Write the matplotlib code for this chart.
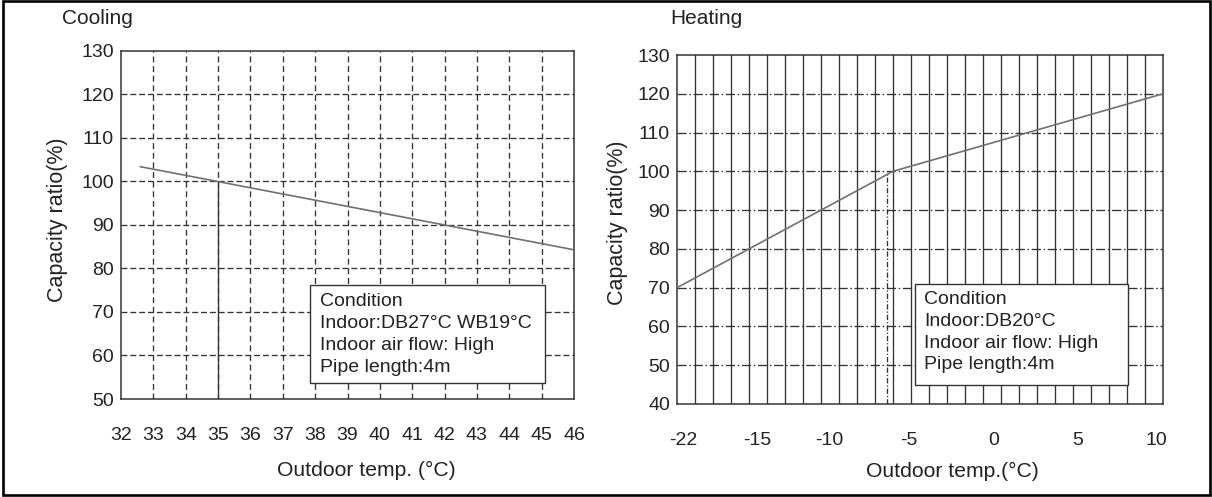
import matplotlib
matplotlib.use('Agg')
import matplotlib.pyplot as plt
import numpy as np
from matplotlib.patches import Rectangle

plt.rcParams['font.family'] = ['Liberation Sans', 'DejaVu Sans']

# ---------------- data ----------------
cool_x = [32.6, 46.0]
cool_y = [103.4, 84.3]
cool_ref_x = 35.0          # marked point (rated condition)
cool_ref_y = 100.0
cool_xticks = list(range(32, 47))
cool_yticks = list(range(50, 131, 10))

heat_x = [-22.0, -7.78, 10.0]
heat_y = [70.0, 100.0, 120.0]
heat_ref_x = -8.15         # dash-dot marker line below the knee
heat_ref_y = 100.0
heat_tick_labels = ['-22', '-15', '-10', '-5', '0', '5', '10']
heat_tick_pos = [-21.62, -16.71, -11.99, -6.74, -1.16, 4.38, 9.57]
heat_yticks = list(range(40, 131, 10))

cool_cond = ["Condition", "Indoor:DB27°C WB19°C", "Indoor air flow: High", "Pipe length:4m"]
heat_cond = ["Condition", "Indoor:DB20°C", "Indoor air flow: High", "Pipe length:4m"]

# ---------------- figure ----------------
W, H = 1212, 497
fig = plt.figure(figsize=(W / 100, H / 100), dpi=100)
TXT = '#222222'
GRID = '#333333'
LINE = '#707070'
FS = 14


def add_ax(l, r, t, b):
    return fig.add_axes([l / W, 1 - b / H, (r - l) / W, (b - t) / H])


def box(ax, frame, l, r, t, b, lines, tx, ty0, dy):
    fl, fr, ft, fb = frame
    ax.add_patch(Rectangle(((l - fl) / (fr - fl), (fb - b) / (fb - ft)),
                           (r - l) / (fr - fl), (b - t) / (fb - ft),
                           transform=ax.transAxes, facecolor='white',
                           edgecolor='#333333', lw=1.0, zorder=6, clip_on=False))
    for i, s in enumerate(lines):
        y = ty0 + i * dy
        ax.text((tx - fl) / (fr - fl), (fb - y) / (fb - ft), s, transform=ax.transAxes,
                ha='left', va='center', fontsize=FS, color=TXT, zorder=7)


def style(ax):
    for sp in ax.spines.values():
        sp.set_color('#333333')
        sp.set_linewidth(1.1)
    ax.tick_params(axis='both', length=0, labelsize=FS, colors=TXT)
    ax.tick_params(axis='x', pad=20)
    ax.tick_params(axis='y', pad=5)


# ---- Cooling ----
cframe = (121, 574, 51, 399)
ax1 = add_ax(*cframe)
ax1.set_xlim(32, 46)
ax1.set_ylim(50, 130)
ax1.set_xticks(cool_xticks)
ax1.set_yticks(cool_yticks)
for xv in cool_xticks[1:-1]:
    ax1.axvline(xv, color=GRID, lw=0.95, dashes=(4.5, 2.8), zorder=1)
for yv in cool_yticks[1:-1]:
    ax1.axhline(yv, color=GRID, lw=0.95, dashes=(4.5, 2.2), zorder=1)
ax1.plot([cool_ref_x, cool_ref_x], [50, cool_ref_y], color=GRID, lw=0.95, zorder=2)
ax1.plot(cool_x, cool_y, color=LINE, lw=1.2, zorder=3)
style(ax1)
box(ax1, cframe, 310, 545, 285, 383, cool_cond, 320, 302, 22)

# ---- Heating ----
hframe = (677, 1163, 55, 404)
ax2 = add_ax(*hframe)
ax2.set_xlim(-22, 10)
ax2.set_ylim(40, 130)
ax2.set_xticks(heat_tick_pos, heat_tick_labels)
ax2.set_yticks(heat_yticks)
for xv in np.linspace(-22, 10, 28)[1:-1]:
    ax2.axvline(xv, color=GRID, lw=0.95, zorder=1)
for yv in heat_yticks[1:-1]:
    ax2.axhline(yv, color=GRID, lw=0.95, dashes=(7, 2, 1.2, 2), zorder=1)
ax2.plot([heat_ref_x, heat_ref_x], [40, heat_ref_y], color=GRID, lw=0.95,
         dashes=(4, 1.5, 1, 1.5), zorder=2)
ax2.plot(heat_x, heat_y, color=LINE, lw=1.2, zorder=3)
style(ax2)
box(ax2, hframe, 915, 1128, 284, 385, heat_cond, 924, 300, 21.5)

# ---- texts ----
def ftext(x, y, s, **kw):
    fig.text(x / W, 1 - y / H, s, color=TXT, **kw)

ftext(62, 18, "Cooling", fontsize=15, ha='left', va='center')
ftext(670, 18, "Heating", fontsize=15, ha='left', va='center')
ftext(366, 470, "Outdoor temp. (°C)", fontsize=15.2, ha='center', va='center')
ftext(952, 471, "Outdoor temp.(°C)", fontsize=15.2, ha='center', va='center')
ftext(58, 220, "Capacity ratio(%)", fontsize=15.5, ha='center', va='center', rotation=90)
ftext(618, 223, "Capacity ratio(%)", fontsize=15.5, ha='center', va='center', rotation=90)

# outer border
fig.patches.append(Rectangle((3 / W, 1 - 494.5 / H), (1210 - 3) / W, (494.5 - 1) / H,
                             transform=fig.transFigure, fill=False,
                             edgecolor='black', lw=1.9, zorder=10))

fig.savefig('out.png', dpi=100, facecolor='white')
